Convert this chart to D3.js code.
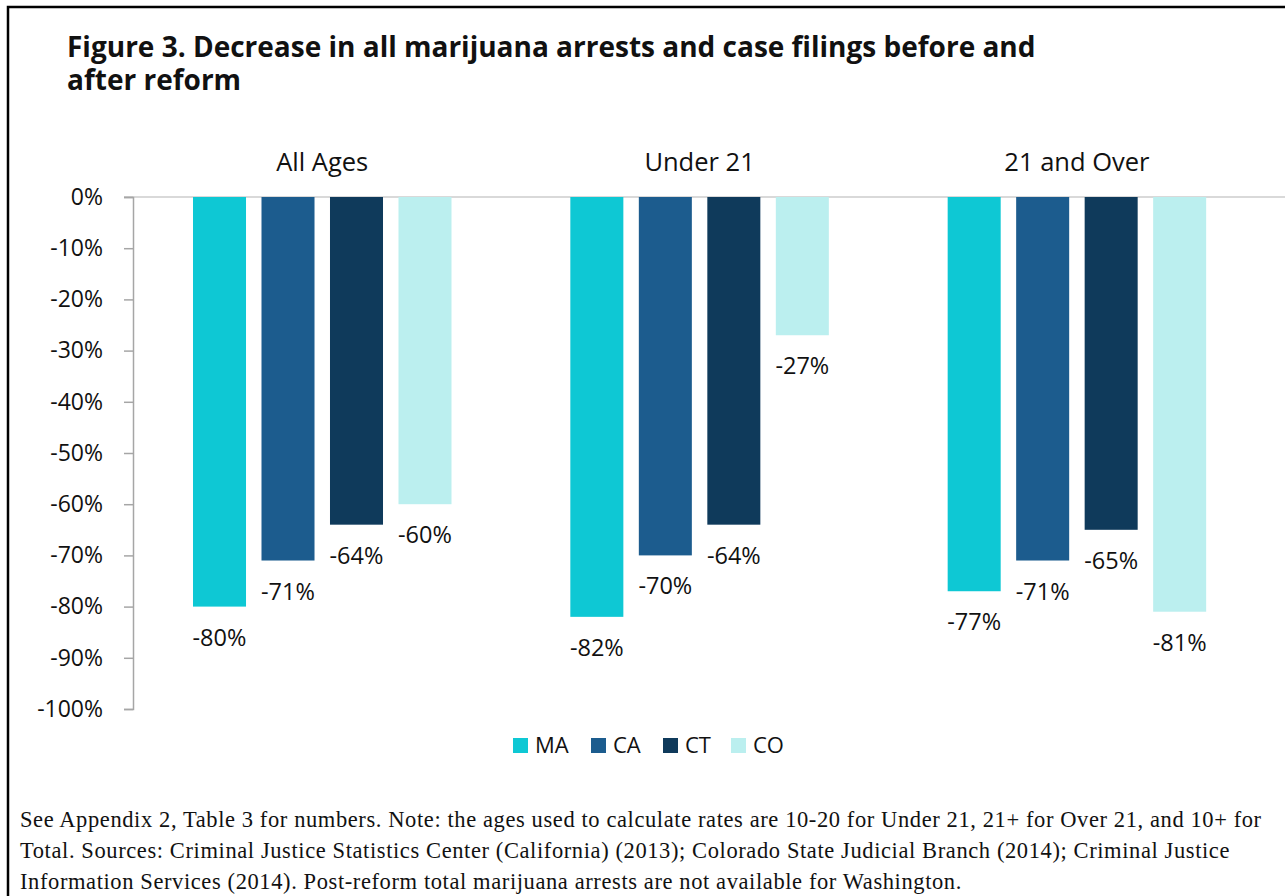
<!DOCTYPE html>
<html>
<head>
<meta charset="utf-8">
<script src="https://cdn.jsdelivr.net/npm/d3@7"></script>
<style>
  body { margin: 0; background: #fff; }
  svg { display: block; }
  .tick text, .lbl { font-family: "Open Sans", sans-serif; fill: #111; }
</style>
</head>
<body>
<div id="chart"></div>
<script>
var groups = ["All Ages", "Under 21", "21 and Over"];
var states = ["MA", "CA", "CT", "CO"];
var MA = [-80, -82, -77];
var CA = [-71, -70, -71];
var CT = [-64, -64, -65];
var CO = [-60, -27, -81];
var yTicks = [0, -10, -20, -30, -40, -50, -60, -70, -80, -90, -100];
var colors = ["#0ec8d4", "#1c5c8e", "#0f3a5b", "#bbefef"];
var titleLines = ["Figure 3. Decrease in all marijuana arrests and case filings before and", "after reform"];
var notes = [
  "See Appendix 2, Table 3 for numbers. Note: the ages used to calculate rates are 10-20 for Under 21, 21+ for Over 21, and 10+ for",
  "Total. Sources: Criminal Justice Statistics Center (California) (2013); Colorado State Judicial Branch (2014); Criminal Justice",
  "Information Services (2014). Post-reform total marijuana arrests are not available for Washington."
];

var series = [MA, CA, CT, CO];
var rows = groups.map(function(g, i){
  return {group: g, values: states.map(function(s, j){ return {state: s, value: series[j][i], color: colors[j]}; })};
});

var W = 1285, H = 896;
var svg = d3.select("#chart").append("svg")
  .attr("width", W)
  .attr("height", H);

// frame
svg.append("rect")
  .attr("x", 8).attr("y", 7)
  .attr("width", W + 20).attr("height", H + 20)
  .attr("fill", "none").attr("stroke", "#000").attr("stroke-width", 2.5);

// title
svg.selectAll(".title")
  .data(titleLines)
  .enter().append("text")
  .attr("class", "lbl title")
  .attr("x", 67)
  .attr("y", function(d, i){ return 57 + i * 33; })
  .attr("font-size", 28).attr("font-weight", 700)
  .text(function(d){ return d; });

var x0 = d3.scaleBand().domain(groups).range([133, 1265]);
var x1 = d3.scaleBand().domain(states).range([60, 318.5]).paddingInner(0.226).paddingOuter(0);
var y = d3.scaleLinear().domain([-100, 0]).range([709, 197]);

// zero line
svg.append("line")
  .attr("x1", 124).attr("x2", W)
  .attr("y1", y(0)).attr("y2", y(0))
  .attr("stroke", "#d9d9d9").attr("stroke-width", 2);

// y axis
var yAxis = svg.append("g")
  .attr("transform", "translate(133,0)")
  .call(d3.axisLeft(y).tickValues(yTicks).tickSize(9).tickPadding(21)
    .tickFormat(function(d){ return d + "%"; }));
yAxis.select(".domain").attr("stroke", "#a6a6a6").attr("stroke-width", 1.5);
yAxis.selectAll(".tick line").attr("stroke", "#a6a6a6").attr("stroke-width", 1.5);
yAxis.selectAll(".tick text").attr("font-size", 23);

// group labels
svg.selectAll(".glabel")
  .data(groups)
  .enter().append("text")
  .attr("class", "lbl glabel")
  .attr("x", function(d){ return x0(d) + 60 + 258.5 / 2; })
  .attr("y", 171)
  .attr("text-anchor", "middle")
  .attr("font-size", 25.5)
  .text(function(d){ return d; });

var g = svg.selectAll(".grp")
  .data(rows)
  .enter().append("g")
  .attr("class", "grp")
  .attr("transform", function(d){ return "translate(" + x0(d.group) + ",0)"; });

var bar = g.selectAll(".bar")
  .data(function(d){ return d.values; })
  .enter();

bar.append("rect")
  .attr("x", function(d){ return x1(d.state); })
  .attr("y", y(0))
  .attr("width", x1.bandwidth())
  .attr("height", function(d){ return y(d.value) - y(0); })
  .attr("fill", function(d){ return d.color; });

bar.append("text")
  .attr("class", "lbl")
  .attr("x", function(d){ return x1(d.state) + x1.bandwidth() / 2; })
  .attr("y", function(d){ return y(d.value) + 39; })
  .attr("text-anchor", "middle")
  .attr("font-size", 23.5)
  .text(function(d){ return d.value + "%"; });

// legend
var legX = [513, 591, 663, 731];
var leg = svg.selectAll(".leg")
  .data(states)
  .enter().append("g")
  .attr("class", "leg")
  .attr("transform", function(d, i){ return "translate(" + legX[i] + ",738)"; });
leg.append("rect")
  .attr("width", 15).attr("height", 15)
  .attr("fill", function(d, i){ return colors[i]; });
leg.append("text")
  .attr("class", "lbl")
  .attr("x", 22).attr("y", 15)
  .attr("font-size", 22)
  .text(function(d){ return d; });

// footnote
svg.selectAll(".note")
  .data(notes)
  .enter().append("text")
  .attr("class", "note")
  .attr("x", 20)
  .attr("y", function(d, i){ return 827 + i * 31; })
  .attr("font-family", "'Liberation Serif', serif")
  .attr("font-size", 22.5)
  .attr("letter-spacing", 0.6)
  .attr("fill", "#111")
  .text(function(d){ return d; });
</script>
</body>
</html>
